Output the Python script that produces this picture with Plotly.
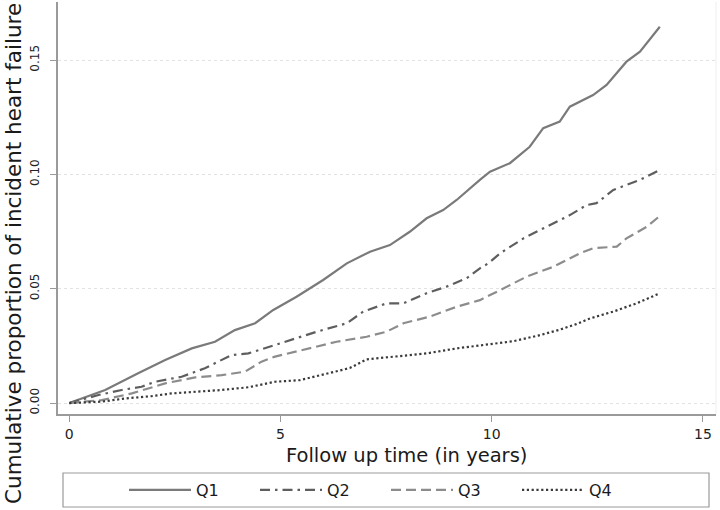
import plotly.graph_objects as go

# ---- data ----
series_names = ["Q1", "Q2", "Q3", "Q4"]

q1_x = [0, 0.85, 1.63, 2.27, 2.90, 3.45, 3.92, 4.40, 4.83, 5.38, 6.01, 6.57, 7.12, 7.59, 8.06,
        8.46, 8.85, 9.17, 9.72, 9.96, 10.43, 10.90, 11.22, 11.61, 11.85, 12.40, 12.72, 13.19, 13.51, 13.98]
q1_y = [0, 0.0057, 0.0130, 0.0188, 0.0239, 0.0268, 0.0319, 0.0349, 0.0407, 0.0465, 0.0538, 0.0611,
        0.0662, 0.0691, 0.0749, 0.0808, 0.0844, 0.0888, 0.0976, 0.1012, 0.1049, 0.1121, 0.1202,
        0.1231, 0.1296, 0.1347, 0.1391, 0.1493, 0.1537, 0.1646]

q2_x = [0, 0.69, 1.24, 1.71, 2.03, 2.66, 3.21, 3.84, 4.24, 4.87, 5.22, 5.86, 6.57, 6.96, 7.51, 7.91,
        8.46, 8.93, 9.41, 9.72, 9.92, 10.20, 10.75, 11.30, 11.85, 12.25, 12.48, 12.88, 13.51, 13.98]
q2_y = [0, 0.0035, 0.0057, 0.0071, 0.0093, 0.0115, 0.0152, 0.0210, 0.0217, 0.0254, 0.0276, 0.0312,
        0.0349, 0.0400, 0.0436, 0.0436, 0.0480, 0.0509, 0.0546, 0.0589, 0.0611, 0.0655, 0.0720,
        0.0771, 0.0822, 0.0866, 0.0874, 0.0932, 0.0976, 0.1019]

q3_x = [0, 0.77, 1.48, 2.27, 2.98, 3.61, 4.16, 4.55, 4.87, 5.54, 6.33, 7.04, 7.51, 7.91, 8.54, 9.17,
        9.72, 10.20, 10.83, 11.46, 12.09, 12.40, 12.96, 13.19, 13.67, 13.98]
q3_y = [0, 0.0013, 0.0042, 0.0086, 0.0112, 0.0122, 0.0137, 0.0181, 0.0203, 0.0232, 0.0268, 0.0290,
        0.0312, 0.0349, 0.0378, 0.0421, 0.0450, 0.0494, 0.0553, 0.0596, 0.0655, 0.0677, 0.0684,
        0.0720, 0.0771, 0.0818]

q4_x = [0, 0.77, 1.32, 1.95, 2.42, 3.05, 3.61, 4.24, 4.87, 5.46, 6.00, 6.64, 7.04, 7.75, 8.46, 9.17,
        9.92, 10.50, 11.10, 11.60, 12.00, 12.33, 12.88, 13.43, 13.98]
q4_y = [0, 0.0006, 0.0020, 0.0030, 0.0042, 0.0049, 0.0057, 0.0069, 0.0093, 0.0100, 0.0125, 0.0153,
        0.0191, 0.0203, 0.0217, 0.0239, 0.0258, 0.0270, 0.0295, 0.0320, 0.0345, 0.0370, 0.0400,
        0.0436, 0.0480]

x_ticks = [0, 5, 10, 15]
x_tick_labels = ["0", "5", "10", "15"]
y_ticks = [0.0, 0.05, 0.10, 0.15]
y_tick_labels = ["0.00", "0.05", "0.10", "0.15"]

x_title = "Follow up time (in years)"
y_title = "Cumulative proportion of incident heart failure"

# ---- styling ----
FONT = "DejaVu Sans"
styles = [
    dict(color="#7a7a7a", width=2.2, dash="solid"),
    dict(color="#5e5e5e", width=2.2, dash="10px,5px,2.5px,5px"),
    dict(color="#8c8c8c", width=2.2, dash="10px,5px"),
    dict(color="#3a3a3a", width=2.2, dash="2.2px,2.6px"),
]

fig = go.Figure()
for name, xs, ys, st in zip(series_names, [q1_x, q2_x, q3_x, q4_x], [q1_y, q2_y, q3_y, q4_y], styles):
    fig.add_trace(go.Scatter(x=xs, y=ys, mode="lines", name=name, line=st, hoverinfo="skip"))

L, R, T, B = 58, 4, 2, 96
W, H = 720, 510
pw, ph = W - L - R, H - T - B


def px_to_paper_x(px):
    return (px - L) / pw


def px_to_paper_y(py):
    return (H - B - py) / ph


fig.update_layout(
    width=W, height=H,
    margin=dict(l=L, r=R, t=T, b=B, pad=0, autoexpand=False),
    paper_bgcolor="white", plot_bgcolor="white",
    font=dict(family=FONT, color="#222222"),
    showlegend=True,
    hovermode=False,
    legend=dict(
        orientation="h",
        x=px_to_paper_x(124), xanchor="left",
        y=px_to_paper_y(490), yanchor="middle",
        xref="paper", yref="paper",
        font=dict(size=16, family=FONT, color="#1a1a1a"),
        bgcolor="rgba(0,0,0,0)", borderwidth=0,
        entrywidth=54, entrywidthmode="pixels",
        itemwidth=62,
        traceorder="normal",
    ),
    xaxis=dict(
        range=[-0.267, 15.31],
        automargin=False,
        tickvals=x_ticks, ticktext=x_tick_labels,
        ticks="outside", ticklen=6, tickwidth=1.2, tickcolor="#9a9a9a",
        tickfont=dict(size=14, family=FONT, color="#222222"),
        ticklabeloverflow="allow",
        showline=True, linecolor="#9a9a9a", linewidth=2,
        showgrid=False, zeroline=False,
    ),
    yaxis=dict(
        range=[-0.0048, 0.1754],
        automargin=False,
        tickvals=y_ticks, ticktext=y_tick_labels,
        tickangle=-90,
        ticks="outside", ticklen=6, tickwidth=1.2, tickcolor="#9a9a9a",
        tickfont=dict(size=12, family=FONT, color="#222222"),
        ticklabelstandoff=6,
        showline=True, linecolor="#9a9a9a", linewidth=2,
        showgrid=True, gridcolor="#e2e2e2", gridwidth=1, griddash="dot",
        zeroline=False,
    ),
    shapes=[
        dict(type="rect", xref="paper", yref="paper",
             x0=px_to_paper_x(63), x1=px_to_paper_x(709),
             y0=px_to_paper_y(507), y1=px_to_paper_y(473),
             line=dict(color="#9a9a9a", width=1.2), fillcolor="rgba(0,0,0,0)", layer="below"),
        dict(type="line", xref="paper", yref="paper", x0=1, x1=1, y0=0, y1=1,
             line=dict(color="#eeeeee", width=1)),
    ],
    annotations=[
        dict(text=x_title, xref="paper", yref="paper",
             x=px_to_paper_x(406), y=px_to_paper_y(455),
             xanchor="center", yanchor="middle", showarrow=False,
             font=dict(size=19.5, family=FONT, color="#1a1a1a")),
        dict(text=y_title, xref="paper", yref="paper", textangle=-90,
             x=px_to_paper_x(14), y=px_to_paper_y(254),
             xanchor="center", yanchor="middle", showarrow=False,
             font=dict(size=21.5, family=FONT, color="#1a1a1a")),
    ],
)

fig.write_html(
    "out.html",
    config={"displayModeBar": False, "staticPlot": False},
    post_script="document.body.style.margin='0';document.body.style.padding='0';",
)
